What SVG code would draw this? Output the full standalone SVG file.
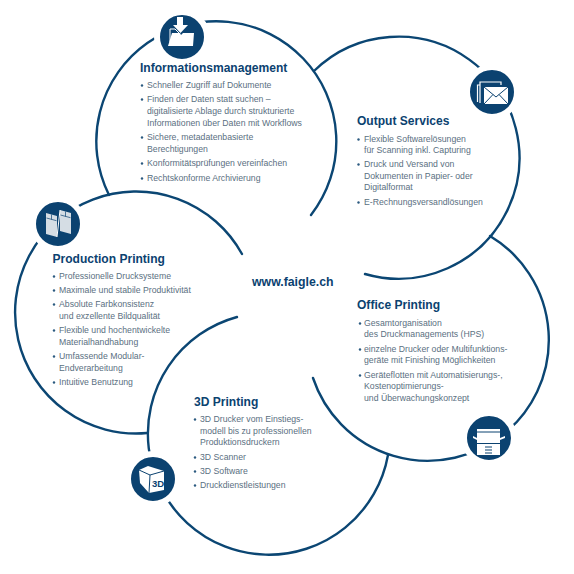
<svg xmlns="http://www.w3.org/2000/svg" width="574" height="574" viewBox="0 0 574 574">
<style>
.arc{fill:none;stroke:#0b4673;stroke-width:2.4;stroke-linecap:round}
.disc{fill:#0b4270;stroke:#fff;stroke-width:6}
.t{font-family:"Liberation Sans",Arial,sans-serif;font-weight:700;font-size:12.05px;fill:#0b4270}
.b{font-family:"Liberation Sans",Arial,sans-serif;font-size:8.7px;fill:#5a6f81}
.d{fill:#2c5a80}
.w{fill:#fff}
.n{fill:none;stroke:#0b4270;stroke-width:1}
</style>
<rect width="574" height="574" fill="#fff"/>
<g id="connectors">
<path class="arc" d="M109 195A120 120 0 1 1 311 215"/>
<path class="arc" d="M314 71A121 121 0 1 1 365 274"/>
<path class="arc" d="M490 236A121 121 0 1 1 313 378"/>
<path class="arc" d="M237 317A121 121 0 1 0 388 455"/>
<path class="arc" d="M147 433A121 121 0 1 1 242 254"/>
</g>
<g id="center"><text x="252" y="285.500" style="font-family:'Liberation Sans',Arial,sans-serif;font-weight:700;font-size:12.3px;fill:#0b4270">www.faigle.ch</text></g>
<g id="informationsmanagement">
<circle class="disc" cx="182" cy="37" r="25"/>
<path class="w" d="M177 17h6v8h5l-7.500 8-7.500-8h4z"/>
<path fill="none" stroke="#fff" stroke-width="1" d="M170 42V29h5l4 4"/>
<path class="w" d="M168 46l4-13h8l1 2 2-2h11l-1 13z"/>
<text class="t" x="140" y="72">Informationsmanagement</text>
<circle class="d" cx="142" cy="85.500" r="1.200"/><text class="b" x="147" y="88">Schneller Zugriff auf Dokumente</text>
<circle class="d" cx="142" cy="99.500" r="1.200"/><text class="b" x="147" y="102">Finden der Daten statt suchen –</text>
<text class="b" x="147" y="114">digitalisierte Ablage durch strukturierte</text>
<text class="b" x="147" y="125.500">Informationen über Daten mit Workflows</text>
<circle class="d" cx="142" cy="137.500" r="1.200"/><text class="b" x="147" y="140">Sichere, metadatenbasierte</text>
<text class="b" x="147" y="152">Berechtigungen</text>
<circle class="d" cx="142" cy="163.500" r="1.200"/><text class="b" x="147" y="166">Konformitätsprüfungen vereinfachen</text>
<circle class="d" cx="142" cy="178.500" r="1.200"/><text class="b" x="147" y="181">Rechtskonforme Archivierung</text>
</g>
<g id="output-services">
<circle class="disc" cx="492" cy="92" r="25"/>
<path fill="none" stroke="#fff" stroke-width="1.200" d="M480 103V82h21v3M477.500 102V85h2"/>
<rect class="w" x="484" y="87" width="24" height="17"/>
<path class="n" d="M484 87l12 10 12-10M484 104l9-9.500M508 104l-9-9.500"/>
<text class="t" x="357" y="125">Output Services</text>
<circle class="d" cx="358.500" cy="139.500" r="1.200"/><text class="b" x="364" y="142">Flexible Softwarelösungen</text>
<text class="b" x="364" y="153">für Scanning inkl. Capturing</text>
<circle class="d" cx="358.500" cy="164.500" r="1.200"/><text class="b" x="364" y="167">Druck und Versand von</text>
<text class="b" x="364" y="179">Dokumenten in Papier- oder</text>
<text class="b" x="364" y="190">Digitalformat</text>
<circle class="d" cx="358.500" cy="202.500" r="1.200"/><text class="b" x="364" y="205">E-Rechnungsversandlösungen</text>
</g>
<g id="production-printing">
<circle class="disc" cx="58" cy="224" r="25"/>
<path fill="#d5dde4" d="M46 213l11 3v21l-11-3zM60 210l11 3v21l-11-3z"/>
<path fill="none" stroke="#fff" stroke-width="1" d="M57 237l3-27"/>
<path fill="none" stroke="#0b4270" stroke-width=".7" d="M46.500 218l10 2.700M60.500 215l10 2.700M51.500 214.500v5M65.500 211.500v5"/>
<text class="t" x="52.500" y="263">Production Printing</text>
<circle class="d" cx="54" cy="276.500" r="1.200"/><text class="b" x="59" y="279">Professionelle Drucksysteme</text>
<circle class="d" cx="54" cy="290.500" r="1.200"/><text class="b" x="59" y="293">Maximale und stabile Produktivität</text>
<circle class="d" cx="54" cy="304.500" r="1.200"/><text class="b" x="59" y="307">Absolute Farbkonsistenz</text>
<text class="b" x="59" y="319">und exzellente Bildqualität</text>
<circle class="d" cx="54" cy="330.500" r="1.200"/><text class="b" x="59" y="333">Flexible und hochentwickelte</text>
<text class="b" x="59" y="345">Materialhandhabung</text>
<circle class="d" cx="54" cy="356.500" r="1.200"/><text class="b" x="59" y="359">Umfassende Modular-</text>
<text class="b" x="59" y="371">Endverarbeitung</text>
<circle class="d" cx="54" cy="382.500" r="1.200"/><text class="b" x="59" y="385">Intuitive Benutzung</text>
</g>
<g id="office-printing">
<circle class="disc" cx="489" cy="438" r="25"/>
<rect class="w" x="477" y="429" width="23" height="14"/>
<rect class="w" x="477" y="444" width="23" height="11"/>
<path class="w" d="M473 436l4 2v2l-4-2zM500 438l5-2v2l-5 2z"/>
<path class="n" d="M477 432h23M485 447h7M485 450h7M485 453h7"/>
<text class="t" x="357" y="309">Office Printing</text>
<circle class="d" cx="360" cy="323.500" r="1.200"/><text class="b" x="364" y="326">Gesamtorganisation</text>
<text class="b" x="364" y="337">des Druckmanagements (HPS)</text>
<circle class="d" cx="360" cy="349.500" r="1.200"/><text class="b" x="364" y="352">einzelne Drucker oder Multifunktions-</text>
<text class="b" x="364" y="363">geräte mit Finishing Möglichkeiten</text>
<circle class="d" cx="360" cy="375.500" r="1.200"/><text class="b" x="364" y="378">Geräteflotten mit Automatisierungs-,</text>
<text class="b" x="364" y="389">Kostenoptimierungs-</text>
<text class="b" x="364" y="401">und Überwachungskonzept</text>
</g>
<g id="printing-3d">
<circle class="disc" cx="153" cy="479" r="25"/>
<path class="w" d="M139 470l9-4 16 5v19l-15 3-9-10z"/>
<path class="n" d="M139 470l11 5 14-4M150 475l-1 18"/>
<text x="152" y="486.500" style="font-family:'Liberation Sans',Arial,sans-serif;font-weight:700;font-size:9.500px;fill:#0b4270">3D</text>
<text class="t" x="194" y="406">3D Printing</text>
<circle class="d" cx="195" cy="419.500" r="1.200"/><text class="b" x="200" y="422">3D Drucker vom Einstiegs-</text>
<text class="b" x="200" y="434">modell bis zu professionellen</text>
<text class="b" x="200" y="445">Produktionsdruckern</text>
<circle class="d" cx="195" cy="457.500" r="1.200"/><text class="b" x="200" y="460">3D Scanner</text>
<circle class="d" cx="195" cy="471.500" r="1.200"/><text class="b" x="200" y="474">3D Software</text>
<circle class="d" cx="195" cy="485.500" r="1.200"/><text class="b" x="200" y="488">Druckdienstleistungen</text>
</g>
</svg>
